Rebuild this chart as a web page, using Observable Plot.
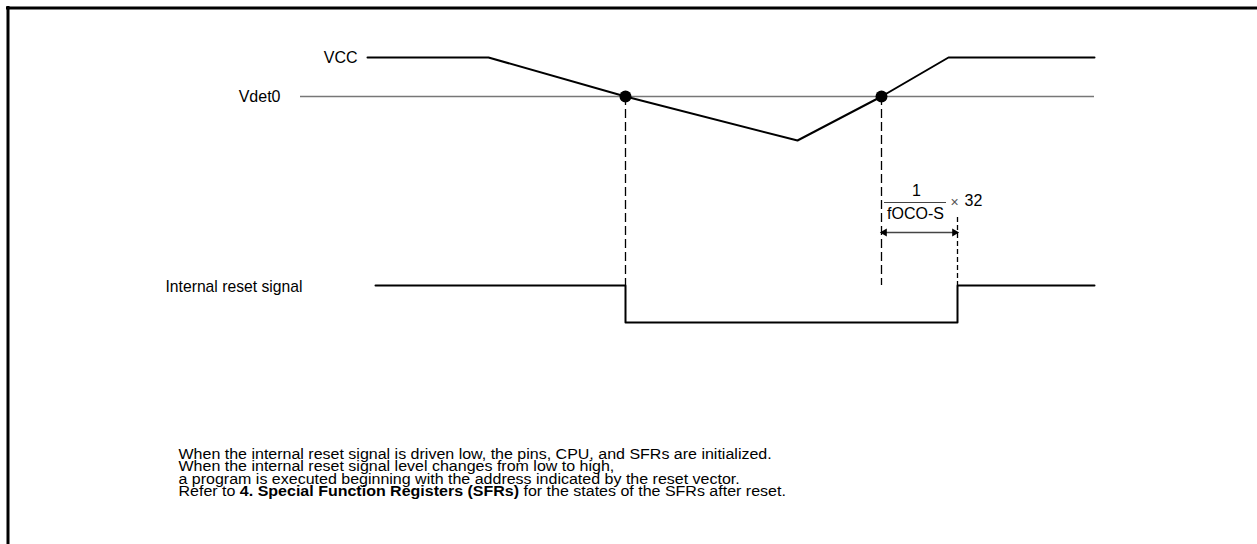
<!DOCTYPE html>
<html>
<head>
<meta charset="utf-8">
<script src="https://cdn.jsdelivr.net/npm/d3@7"></script>
<script src="https://cdn.jsdelivr.net/npm/@observablehq/plot@0.6"></script>
<style>
  html, body { margin: 0; padding: 0; background: #fff; }
</style>
</head>
<body>
<div id="chart"></div>
<script>
// ---- Data (diagram coordinates) ----
const vccT = [367, 488, 625, 797, 881, 948, 1094];
const vccLevel = [57, 57, 96, 140, 96, 57, 57];
const vdetT = [300, 1094];
const vdetLevel = 96;
const resetT = [375, 625, 625, 957, 957, 1094];
const resetLevel = [285, 285, 322, 322, 285, 285];
const crossT = [625, 881];
const crossLevel = [96, 96];
const delayT = [881, 957];
const delayLevel = 232;
const labels = ["VCC", "Vdet0", "Internal reset signal"];
const captionLines = [
  "When the internal reset signal is driven low, the pins, CPU, and SFRs are initialized.",
  "When the internal reset signal level changes from low to high,",
  "a program is executed beginning with the address indicated by the reset vector.",
  "Refer to 4. Special Function Registers (SFRs) for the states of the SFRs after reset."
];
const boldPart = "4. Special Function Registers (SFRs)";

const vcc = vccT.map((t, i) => ({t, v: vccLevel[i]}));
const reset = resetT.map((t, i) => ({t, v: resetLevel[i]}));
const cross = crossT.map((t, i) => ({t, v: crossLevel[i]}));
const FONT = "'Liberation Sans', Arial, Helvetica, sans-serif";

const plot = Plot.plot({
  width: 1257,
  height: 544,
  margin: 0,
  x: {domain: [0, 1257], axis: null},
  y: {domain: [544, 0], axis: null},
  style: {fontFamily: FONT, background: "#fff", color: "#000"},
  marks: [
    // frame
    Plot.ruleX([7.5], {y1: 6, y2: 544, stroke: "#000", strokeWidth: 3}),
    Plot.ruleY([7.5], {x1: 6, x2: 1257, stroke: "#000", strokeWidth: 3}),
    // Vdet0 threshold
    Plot.ruleY([vdetLevel], {x1: vdetT[0], x2: vdetT[1], stroke: "#777", strokeWidth: 1.5}),
    // VCC waveform
    Plot.line(vcc, {x: "t", y: "v", stroke: "#000", strokeWidth: 2, curve: "linear"}),
    // dashed verticals at crossing points
    Plot.ruleX(crossT, {y1: vdetLevel, y2: resetLevel[0], stroke: "#000", strokeWidth: 1.3, strokeDasharray: "9,4"}),
    Plot.ruleX([delayT[1]], {y1: 217, y2: resetLevel[0], stroke: "#000", strokeWidth: 1.3, strokeDasharray: "5,3"}),
    // internal reset signal
    Plot.line(reset, {x: "t", y: "v", stroke: "#000", strokeWidth: 2, curve: "linear"}),
    // crossing dots
    Plot.dot(cross, {x: "t", y: "v", r: 6, fill: "#000", stroke: "none"}),
    // delay arrow
    Plot.ruleY([delayLevel], {x1: delayT[0] + 2, x2: delayT[1] - 2, stroke: "#444", strokeWidth: 1.3}),
    Plot.dot([{t: delayT[0] + 3, v: delayLevel, rot: -90}, {t: delayT[1] - 3, v: delayLevel, rot: 90}],
      {x: "t", y: "v", symbol: "triangle", r: 3, rotate: "rot", fill: "#000", stroke: "none"}),
    // fraction 1 / fOCO-S x 32
    Plot.text(["1"], {x: 916, y: 190, fontSize: 16, textAnchor: "middle", lineAnchor: "middle"}),
    Plot.ruleY([202], {x1: 884, x2: 946, stroke: "#444", strokeWidth: 1}),
    Plot.text(["fOCO-S"], {x: 915, y: 213, fontSize: 16, textAnchor: "middle", lineAnchor: "middle"}),
    Plot.text(["×"], {x: 950, y: 202, fontSize: 14, textAnchor: "start", lineAnchor: "middle", fill: "#555"}),
    Plot.text(["32"], {x: 964, y: 200, fontSize: 16, textAnchor: "start", lineAnchor: "middle"}),
    // signal labels
    Plot.text([labels[0]], {x: 357, y: 57, fontSize: 16, textAnchor: "end", lineAnchor: "middle"}),
    Plot.text([labels[1]], {x: 280, y: 96, fontSize: 16, textAnchor: "end", lineAnchor: "middle"}),
    Plot.text([labels[2]], {x: 165, y: 286, fontSize: 15.7, textAnchor: "start", lineAnchor: "middle"}),
    // caption
    Plot.text(captionLines, {x: 178, y: (d, i) => 454 + i * 12.3, fontSize: 13.8, textAnchor: "start", lineAnchor: "middle", className: "caption"})
  ]
});

// bold fragment in the last caption line
d3.select(plot).selectAll("text").filter(function () {
  return this.textContent.startsWith("Refer to");
}).each(function () {
  const full = this.textContent;
  const idx = full.indexOf(boldPart);
  const t = d3.select(this);
  t.text(null);
  t.append("tspan").text(full.slice(0, idx));
  t.append("tspan").attr("font-weight", "bold").text(boldPart);
  t.append("tspan").text(full.slice(idx + boldPart.length));
});

// the caption's type is set slightly wide in the reference
d3.select(plot).selectAll("text").filter(function () {
  return captionLines.includes(this.textContent);
}).each(function () {
  const x = +this.getAttribute("x") || 0, y = +this.getAttribute("y") || 0;
  const tr = this.getAttribute("transform") || "";
  this.setAttribute("transform", `${tr} translate(${x},${y}) scale(1.16,1) translate(${-x},${-y})`);
});

document.getElementById("chart").appendChild(plot);
</script>
</body>
</html>
